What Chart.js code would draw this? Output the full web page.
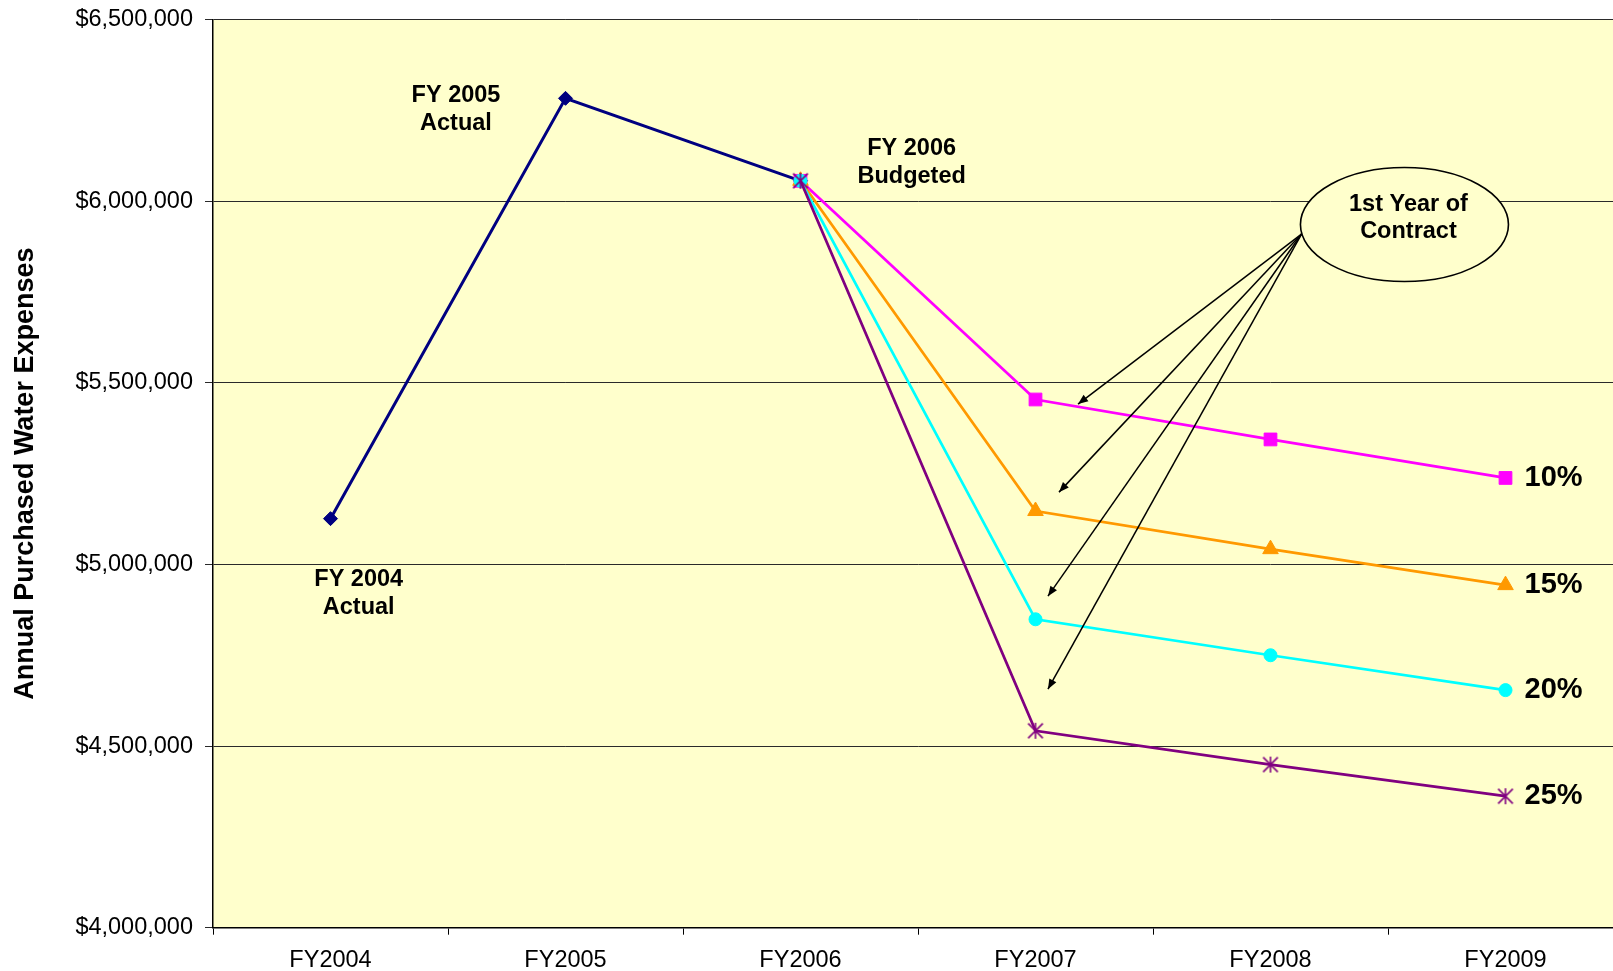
<!DOCTYPE html>
<html>
<head>
<meta charset="utf-8">
<script src="https://cdn.jsdelivr.net/npm/chart.js@4/dist/chart.umd.min.js"></script>
<style>
  html, body { margin: 0; padding: 0; background: #ffffff; overflow: hidden; width: 1613px; height: 971px; }
  canvas { display: block; }
</style>
</head>
<body>
<canvas id="expenses" width="1640" height="971"></canvas>
<script>
// Fiscal years on the category axis
const categories = ['FY2004', 'FY2005', 'FY2006', 'FY2007', 'FY2008', 'FY2009'];

// Actual / budgeted purchased water expenses (USD)
const actualExpenses = [5126000, 6283000, 6056000, null, null, null];

// Projected expenses under each contract reduction level (USD)
const reduction10 = [null, null, 6056000, 5454000, 5344000, 5238000];
const reduction15 = [null, null, 6056000, 5147000, 5042000, 4943000];
const reduction20 = [null, null, 6056000, 4849000, 4750000, 4654000];
const reduction25 = [null, null, 6056000, 4542000, 4449000, 4362000];
const reductionLabels = ['10%', '15%', '20%', '25%'];

// Value axis range
const yMin = 4000000;
const yMax = 6500000;
const yStep = 500000;

// Callout texts, placed in data space: [category index, dollars]
const noteTexts = [['FY 2005', 'Actual'], ['FY 2004', 'Actual'], ['FY 2006', 'Budgeted']];
const noteAnchors = [[0.534, 6252500], [0.120, 4920400], [2.473, 6105700]];

// "1st Year of Contract" bubble and its arrows into FY2007
const bubbleText = ['1st Year of', 'Contract'];
const bubbleCenter = [4.570, 5935600];
const bubbleTextCenter = [4.587, 5953500];
const bubbleRadii = [0.4426, 156900];   // [categories, dollars]
const arrowStart = [4.132, 5909400];
const arrowTips = [[3.181, 5441300], [3.100, 5199000], [3.053, 4912700], [3.053, 4656700]];

const FONT = '"Liberation Sans", Arial, Helvetica, sans-serif';
const PLOT_BG = '#FFFFCC';

// Asterisk marker: an X crossed by a vertical stroke
function asteriskMarker(color, half, lw) {
  const size = Math.ceil(half * 2 + lw + 4);
  const c = document.createElement('canvas');
  c.width = size; c.height = size;
  const g = c.getContext('2d');
  const m = size / 2;
  const d = half * 0.92;
  g.strokeStyle = color;
  g.lineWidth = lw;
  g.lineCap = 'butt';
  g.beginPath();
  g.moveTo(m - d, m - d); g.lineTo(m + d, m + d);
  g.moveTo(m + d, m - d); g.lineTo(m - d, m + d);
  g.moveTo(m, m - half); g.lineTo(m, m + half);
  g.stroke();
  return c;
}

const plotBackground = {
  id: 'plotBackground',
  beforeDraw(chart) {
    const { ctx, chartArea: a } = chart;
    ctx.save();
    ctx.fillStyle = PLOT_BG;
    ctx.fillRect(a.left, a.top, a.right - a.left, a.bottom - a.top);
    ctx.restore();
  }
};

function drawArrow(ctx, x0, y0, x1, y1) {
  ctx.beginPath();
  ctx.moveTo(x0, y0);
  ctx.lineTo(x1, y1);
  ctx.stroke();
  const ang = Math.atan2(y1 - y0, x1 - x0);
  const L = 10, W = 4;
  const bx = x1 - L * Math.cos(ang), by = y1 - L * Math.sin(ang);
  ctx.beginPath();
  ctx.moveTo(x1, y1);
  ctx.lineTo(bx + W * Math.sin(ang), by - W * Math.cos(ang));
  ctx.lineTo(bx - W * Math.sin(ang), by + W * Math.cos(ang));
  ctx.closePath();
  ctx.fill();
}

const callouts = {
  id: 'callouts',
  afterDatasetsDraw(chart) {
    const { ctx } = chart;
    const xs = chart.scales.x, ys = chart.scales.y;
    const px = v => xs.getPixelForValue(v);
    const py = v => ys.getPixelForValue(v);
    ctx.save();
    ctx.fillStyle = '#000';
    ctx.strokeStyle = '#000';

    // point callouts
    ctx.font = 'bold 23.5px ' + FONT;
    ctx.textAlign = 'center';
    ctx.textBaseline = 'middle';
    noteTexts.forEach((lines, i) => {
      const cx = px(noteAnchors[i][0]);
      const cy = py(noteAnchors[i][1]);
      ctx.fillText(lines[0], cx, cy - 14);
      ctx.fillText(lines[1], cx, cy + 14);
    });

    // arrows from the bubble
    const sx = px(arrowStart[0]), sy = py(arrowStart[1]);
    ctx.lineWidth = 1.5;
    arrowTips.forEach(t => drawArrow(ctx, sx, sy, px(t[0]), py(t[1])));

    // bubble
    const ex = px(bubbleCenter[0]), ey = py(bubbleCenter[1]);
    const rx = px(bubbleCenter[0] + bubbleRadii[0]) - ex;
    const ry = py(bubbleCenter[1] - bubbleRadii[1]) - ey;
    ctx.beginPath();
    ctx.ellipse(ex, ey, rx, ry, 0, 0, Math.PI * 2);
    ctx.fillStyle = PLOT_BG;
    ctx.fill();
    ctx.lineWidth = 1.6;
    ctx.stroke();
    ctx.fillStyle = '#000';
    ctx.font = 'bold 23.5px ' + FONT;
    const tx = px(bubbleTextCenter[0]), ty = py(bubbleTextCenter[1]);
    ctx.fillText(bubbleText[0], tx, ty - 13.5);
    ctx.fillText(bubbleText[1], tx, ty + 13.5);

    // reduction labels beside each projection's last point
    ctx.font = 'bold 29px ' + FONT;
    ctx.textAlign = 'left';
    reductionLabels.forEach((label, i) => {
      const meta = chart.getDatasetMeta(i + 1);
      const last = meta.data[meta.data.length - 1];
      ctx.fillText(label, last.x + 19, last.y);
    });
    ctx.restore();
  }
};

const lineBase = { spanGaps: false, tension: 0, fill: false };

new Chart(document.getElementById('expenses'), {
  type: 'line',
  data: {
    labels: categories,
    datasets: [
      { ...lineBase, label: 'Actual', order: 5, data: actualExpenses, borderColor: '#000080', borderWidth: 3,
        pointStyle: 'rectRot', pointRadius: 7, pointBackgroundColor: '#000080', pointBorderColor: '#000080', pointBorderWidth: 1 },
      { ...lineBase, label: '10%', order: 4, data: reduction10, borderColor: '#FF00FF', borderWidth: 2.75,
        pointStyle: 'rect', pointRadius: 9, pointBackgroundColor: '#FF00FF', pointBorderColor: '#FF00FF', pointBorderWidth: 1 },
      { ...lineBase, label: '15%', order: 3, data: reduction15, borderColor: '#FF9900', borderWidth: 2.75,
        pointStyle: 'triangle', pointRadius: 9, pointBackgroundColor: '#FF9900', pointBorderColor: '#FF9900', pointBorderWidth: 1 },
      { ...lineBase, label: '20%', order: 2, data: reduction20, borderColor: '#00FFFF', borderWidth: 2.75,
        pointStyle: 'circle', pointRadius: 6.5, pointBackgroundColor: '#00FFFF', pointBorderColor: '#00FFFF', pointBorderWidth: 1 },
      { ...lineBase, label: '25%', order: 1, data: reduction25, borderColor: '#800080', borderWidth: 2.75,
        pointStyle: asteriskMarker('#800080', 8, 1.6), pointRadius: 8 }
    ]
  },
  options: {
    responsive: false,
    animation: false,
    events: [],
    layout: { padding: { top: 19.5, right: 17, left: 0, bottom: 0 } },
    plugins: {
      legend: { display: false },
      tooltip: { enabled: false },
      title: { display: false }
    },
    scales: {
      x: {
        type: 'category',
        offset: true,
        grid: { display: true, offset: true, drawOnChartArea: false, drawTicks: true, tickLength: 7, color: '#000', lineWidth: 1 },
        border: { display: true, color: '#000', width: 1.5 },
        ticks: { color: '#000', font: { family: FONT, size: 23.5 }, padding: 12, maxRotation: 0, autoSkip: false },
        afterFit(scale) {
          scale.height = 43.3;
          scale.paddingLeft = 0;
          scale.paddingRight = 0;
        }
      },
      y: {
        min: yMin,
        max: yMax,
        grid: { color: '#2a2a2a', lineWidth: 1, tickLength: 8, drawTicks: true },
        border: { display: true, color: '#000', width: 1.5 },
        ticks: {
          stepSize: yStep,
          color: '#000',
          padding: 12,
          font: { family: FONT, size: 23.5 },
          callback: v => '$' + Number(v).toLocaleString('en-US')
        },
        title: {
          display: true,
          text: 'Annual Purchased Water Expenses',
          color: '#000',
          font: { family: FONT, size: 27, weight: 'bold' },
          padding: { top: 9, bottom: 0 }
        },
        afterFit(scale) {
          scale.width = 213;
          scale.paddingTop = 0;
          scale.paddingBottom = 0;
        }
      }
    }
  },
  plugins: [plotBackground, callouts]
});
</script>
</body>
</html>
